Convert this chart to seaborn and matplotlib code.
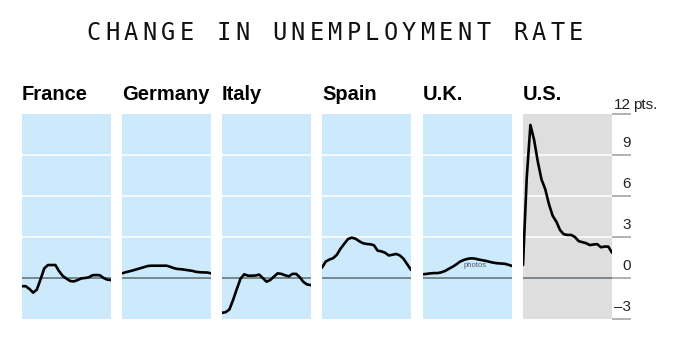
import numpy as np
import pandas as pd
import matplotlib
matplotlib.use("Agg")
import matplotlib.pyplot as plt
import matplotlib.transforms as mtransforms
import seaborn as sns

# ---------------- data ----------------
countries = ["France", "Germany", "Italy", "Spain", "U.K.", "U.S."]
france = [-0.6, -0.6, -0.8, -1.07, -0.85, -0.1, 0.7, 0.95, 0.95, 0.95, 0.5, 0.15, -0.05,
          -0.22, -0.25, -0.15, -0.03, 0.0, 0.05, 0.2, 0.22, 0.2, 0.0, -0.12, -0.15]
germany = [0.34, 0.42, 0.49, 0.56, 0.64, 0.72, 0.80, 0.88, 0.9, 0.9, 0.9, 0.9, 0.9,
           0.82, 0.72, 0.66, 0.64, 0.6, 0.56, 0.52, 0.45, 0.42, 0.41, 0.40, 0.34]
italy = [-2.55, -2.5, -2.3, -1.6, -0.8, -0.05, 0.27, 0.17, 0.17, 0.18, 0.25, 0.0, -0.27,
         -0.15, 0.1, 0.34, 0.3, 0.2, 0.12, 0.3, 0.3, 0.05, -0.3, -0.48, -0.52]
spain = [0.76, 1.2, 1.35, 1.45, 1.7, 2.15, 2.5, 2.85, 2.95, 2.88, 2.7, 2.55, 2.49,
         2.47, 2.4, 2.0, 1.95, 1.85, 1.65, 1.7, 1.76, 1.65, 1.4, 1.0, 0.59]
uk = [0.27, 0.3, 0.34, 0.36, 0.36, 0.42, 0.52, 0.68, 0.82, 1.0, 1.2, 1.32, 1.40,
      1.44, 1.42, 1.35, 1.3, 1.25, 1.18, 1.12, 1.08, 1.06, 1.04, 0.97, 0.88]
us = [0.95, 7.3, 11.2, 10.1, 8.5, 7.2, 6.5, 5.4, 4.55, 4.12, 3.5, 3.2, 3.15,
      3.15, 3.0, 2.7, 2.62, 2.55, 2.41, 2.45, 2.48, 2.25, 2.3, 2.3, 1.85]
series = [france, germany, italy, spain, uk, us]
y_ticks = [-3, 0, 3, 6, 9, 12]
y_tick_labels = ["\u20133", "0", "3", "6", "9", "12"]
title = "CHANGE IN UNEMPLOYMENT RATE"

# ---------------- style ----------------
BLUE = "#cdeafc"
GRAY = "#dedede"
ZERO = "#6e8087"
TICK = "#9c9c9c"

sns.set_style("white")
plt.rcParams["font.family"] = ["Liberation Sans", "DejaVu Sans"]

W, H = 680, 340
fig = plt.figure(figsize=(W / 100, H / 100), dpi=100)
fig.patch.set_facecolor("white")

lefts = [22, 122, 222, 322, 423, 523]
pw = 89
top, bottom = 114, 319

for i, (name, vals) in enumerate(zip(countries, series)):
    ax = fig.add_axes([lefts[i] / W, (H - bottom) / H, pw / W, (bottom - top) / H])
    ax.set_facecolor(GRAY if name == "U.S." else BLUE)
    df = pd.DataFrame({"t": np.arange(len(vals)), "v": vals})
    for yv in y_ticks:
        if yv not in (0, -3, 12):
            ax.axhline(yv, color="white", lw=1.1, zorder=1)
    ax.axhline(0, color=ZERO, lw=1.3, zorder=2)
    sns.lineplot(data=df, x="t", y="v", ax=ax, color="black", lw=1.9, zorder=3)
    lines = ax.get_lines()
    lines[-1].set_solid_joinstyle("round")
    lines[-1].set_solid_capstyle("round")
    ax.set_xlim(0, len(vals) - 1)
    ax.set_ylim(-3, 12)
    ax.set_xlabel("")
    ax.set_ylabel("")
    ax.set_xticks([])
    for s in ax.spines.values():
        s.set_visible(False)
    ax.set_yticks(y_ticks)
    if name == "U.S.":
        ax.yaxis.tick_right()
        ax.tick_params(axis="y", length=19 * 0.72, width=1.1, color=TICK,
                       labelright=False, labelleft=False, right=True, left=False)
        trans = mtransforms.blended_transform_factory(ax.transAxes, ax.transData)
        for yv, lab in zip(y_ticks, y_tick_labels):
            dy = 1.5 if yv == 12 else 3.5
            tr = mtransforms.offset_copy(trans, fig=fig, x=19 * 0.72, y=dy, units="points")
            ax.text(1.0, yv, lab, transform=tr, ha="right", va="bottom",
                    fontsize=11, color="#222222", clip_on=False)
        tr = mtransforms.offset_copy(trans, fig=fig, x=21 * 0.72, y=1.5, units="points")
        ax.text(1.0, 12, "pts.", transform=tr, ha="left", va="bottom",
                fontsize=11, color="#222222", clip_on=False)
    else:
        ax.tick_params(axis="y", length=0, labelleft=False)
    if name == "U.K.":
        ax.text(0.46, 0.255, "photos", transform=ax.transAxes, fontsize=5.5,
                color="#4a5a66", zorder=2.5)
    fig.text(lefts[i] / W, 1 - 100 / H, name, ha="left", va="baseline",
             fontsize=14.5, fontweight="bold", color="black")

# title with wide letter spacing, monospaced
x0, x1 = 94, 576
step = (x1 - x0) / (len(title) - 1)
for k, ch in enumerate(title):
    if ch == " ":
        continue
    fig.text((x0 + k * step) / W, 1 - 33 / H, ch, ha="center", va="center",
             fontsize=17, family="DejaVu Sans Mono", color="#111111")

fig.savefig("out.png", dpi=100, facecolor="white")
